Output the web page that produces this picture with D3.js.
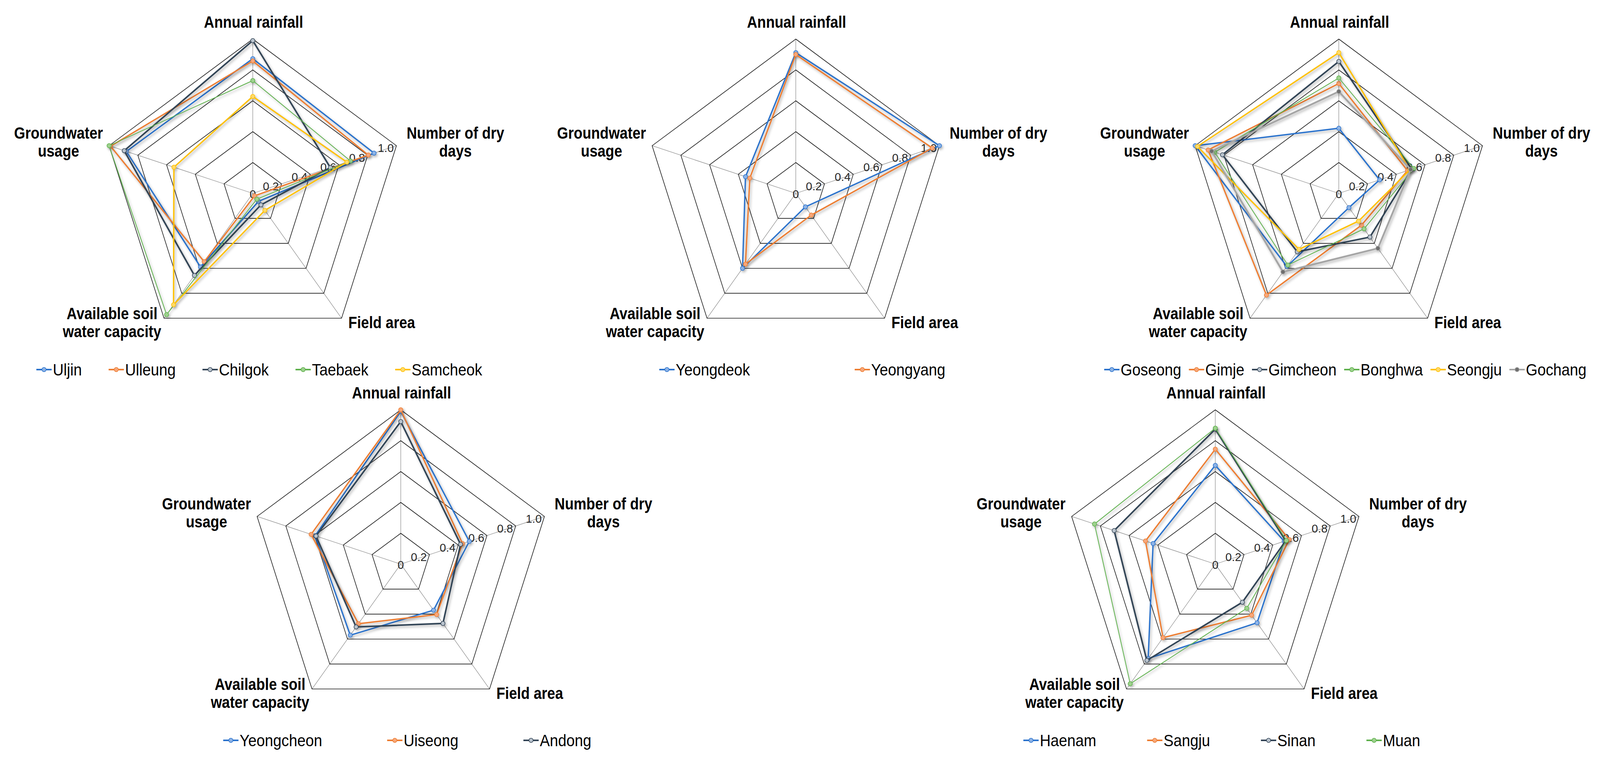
<!DOCTYPE html>
<html>
<head>
<meta charset="utf-8">
<script src="https://cdn.jsdelivr.net/npm/d3@7"></script>
<style>
  html, body { margin: 0; padding: 0; background: #fff; overflow: hidden; }
  svg { display: block; width: 100vw; height: 100vh; font-family: "Liberation Sans", Arial, sans-serif; }
</style>
</head>
<body>
<svg id="radar"></svg>
<script>
// axes, clockwise from the top
const axes = ["Annual rainfall", "Number of dry days", "Field area", "Available soil water capacity", "Groundwater usage"];
const axisLines = [["Annual rainfall"], ["Number of dry", "days"], ["Field area"], ["Available soil", "water capacity"], ["Groundwater", "usage"]];
const ticks = [0, 0.2, 0.4, 0.6, 0.8, 1.0];
const tickLabels = ["0", "0.2", "0.4", "0.6", "0.8", "1.0"];

// chart 1
const regions1 = ["Uljin", "Ulleung", "Chilgok", "Taebaek", "Samcheok"];
const values1 = [
    [0.873, 0.844, 0.064, 0.589, 0.880],
    [0.858, 0.804, 0.020, 0.547, 0.990],
    [0.990, 0.540, 0.092, 0.657, 0.895],
    [0.731, 0.680, 0.046, 0.971, 1.000],
    [0.628, 0.655, 0.136, 0.892, 0.549]
];

// chart 2
const regions2 = ["Yeongdeok", "Yeongyang"];
const values2 = [
    [0.912, 1.000, 0.108, 0.600, 0.350],
    [0.900, 0.950, 0.174, 0.567, 0.320]
];

// chart 3
const regions3 = ["Goseong", "Gimje", "Gimcheon", "Bonghwa", "Seongju", "Gochang"];
const values3 = [
    [0.422, 0.284, 0.114, 0.585, 1.000],
    [0.712, 0.478, 0.255, 0.815, 0.910],
    [0.855, 0.508, 0.350, 0.468, 0.810],
    [0.748, 0.522, 0.284, 0.574, 0.864],
    [0.912, 0.495, 0.222, 0.448, 0.984],
    [0.660, 0.500, 0.440, 0.629, 0.885]
];

// chart 4
const regions4 = ["Yeongcheon", "Uiseong", "Andong"];
const values4 = [
    [0.990, 0.477, 0.369, 0.569, 0.596],
    [1.000, 0.430, 0.404, 0.477, 0.624],
    [0.924, 0.416, 0.475, 0.503, 0.590]
];

// chart 5
const regions5 = ["Haenam", "Sangju", "Sinan", "Muan"];
const values5 = [
    [0.640, 0.480, 0.470, 0.756, 0.433],
    [0.745, 0.515, 0.409, 0.589, 0.486],
    [0.875, 0.490, 0.305, 0.771, 0.704],
    [0.881, 0.495, 0.354, 0.958, 0.841]
];

// series styles (same order in every chart)
const palette = ["#2A72CC", "#ED7D31", "#334456", "#5DB04B", "#FFC000", "#A5A5A5"];
const markerFill = ["#8DB3E6", "#F7A77A", "#B9C3CD", "#9ED18E", "#FFDA6B", "#6E6E6E"];
const lineWidths = [3.5, 3.5, 4, 2, 3.5, 4.5];

// where each chart sits on the page
const layout = [
    { cx: 661,  cy: 495,  legendGap: 70 },
    { cx: 2081, cy: 495,  legendGap: 274 },
    { cx: 3501, cy: 495,  legendGap: 20 },
    { cx: 1048, cy: 1444, legendGap: 170 },
    { cx: 3178, cy: 1444, legendGap: 133 }
];

const width = 4184;
const height = 1953;
const R = 395;
const squeeze = 0.89;      // titles are a little narrow in the original
const legendSqueeze = 0.93;

// drawn in a fixed 4184 x 1953 box stretched onto the window
const svg = d3.select("#radar")
    .attr("viewBox", "0 0 " + width + " " + height)
    .attr("preserveAspectRatio", "none");

svg.append("rect").attr("width", width).attr("height", height).attr("fill", "#fff");

// soft drop shadow like the office chart lines
svg.append("defs")
    .append("filter")
    .attr("id", "shadow")
    .attr("x", "-20%").attr("y", "-20%")
    .attr("width", "140%").attr("height", "140%")
    .append("feDropShadow")
    .attr("dx", 3).attr("dy", 4)
    .attr("stdDeviation", 3)
    .attr("flood-color", "#000")
    .attr("flood-opacity", 0.3);

const rScale = d3.scaleLinear().domain([0, 1]).range([0, R]);
const angle = d3.scaleLinear().domain([0, axes.length]).range([0, 2 * Math.PI]);

function point(i, v) {
    const a = angle(i);
    return [rScale(v) * Math.sin(a), -rScale(v) * Math.cos(a)];
}

function renderRadarChart(names, values, pos) {

    const g = svg.append("g")
        .attr("transform", "translate(" + pos.cx + "," + pos.cy + ")");

    const radial = d3.lineRadial()
        .angle((d, i) => angle(i))
        .radius(d => rScale(d))
        .curve(d3.curveLinearClosed);

    // spokes
    g.append("g")
        .selectAll("line")
        .data(axes)
        .enter().append("line")
        .attr("x1", 0).attr("y1", 0)
        .attr("x2", (d, i) => point(i, 1)[0])
        .attr("y2", (d, i) => point(i, 1)[1])
        .attr("stroke", "#8f8f8f")
        .attr("stroke-width", 1.3);

    // rings
    g.append("g")
        .selectAll("path")
        .data(ticks.filter(t => t > 0))
        .enter().append("path")
        .attr("d", t => radial(axes.map(() => t)))
        .attr("fill", "none")
        .attr("stroke", "#1a1a1a")
        .attr("stroke-width", 1.6);

    // tick labels along the dry days axis
    g.append("g")
        .selectAll("text")
        .data(ticks)
        .enter().append("text")
        .attr("x", t => t === 0 ? 0 : point(1, t)[0] - 7)
        .attr("y", t => t === 0 ? 1 : point(1, t)[1] + 6)
        .attr("dy", "0.35em")
        .attr("text-anchor", t => t === 0 ? "middle" : "end")
        .style("font-size", "30px")
        .style("fill", "#262626")
        .text((t, i) => tickLabels[i]);

    // series
    const series = g.append("g")
        .selectAll(".series")
        .data(values)
        .enter().append("g")
        .attr("class", "series")
        .attr("filter", "url(#shadow)");

    series.append("path")
        .attr("d", d => radial(d))
        .attr("fill", "none")
        .attr("stroke", (d, i) => palette[i])
        .attr("stroke-width", (d, i) => lineWidths[i])
        .attr("stroke-linejoin", "round");

    series.each(function(d, si) {
        d3.select(this).selectAll("circle")
            .data(d)
            .enter().append("circle")
            .attr("cx", (v, i) => point(i, v)[0])
            .attr("cy", (v, i) => point(i, v)[1])
            .attr("r", 5.5)
            .attr("fill", markerFill[si])
            .attr("stroke", palette[si])
            .attr("stroke-width", 1.5);
    });

    // axis titles
    const titleSpots = [
        { x: 2,    y: -424, anchor: "middle" },
        { x: 530,  y: -140, anchor: "middle" },
        { x: 250,  y: 345,  anchor: "start" },
        { x: -368, y: 322,  anchor: "middle" },
        { x: -508, y: -140, anchor: "middle" }
    ];
    axisLines.forEach((lines, i) => {
        const s = titleSpots[i];
        const t = g.append("g")
            .attr("transform", "translate(" + s.x + "," + s.y + ") scale(" + squeeze + ",1)")
            .append("text")
            .attr("text-anchor", s.anchor)
            .style("font-size", "42px")
            .style("font-weight", "bold")
            .style("fill", "#000");
        lines.forEach((line, k) => {
            t.append("tspan").attr("x", 0).attr("y", k * 46).text(line);
        });
    });

    // legend, entries packed with an even gap
    const legend = g.append("g").attr("transform", "translate(0," + 466 + ")");
    const items = legend.selectAll(".item")
        .data(names)
        .enter().append("g")
        .attr("class", "item");

    items.append("line")
        .attr("x1", 0).attr("x2", 40)
        .attr("y1", -15).attr("y2", -15)
        .attr("stroke", (d, i) => palette[i])
        .attr("stroke-width", 4);
    items.append("circle")
        .attr("cx", 20).attr("cy", -15).attr("r", 5.5)
        .attr("fill", (d, i) => markerFill[i])
        .attr("stroke", (d, i) => palette[i])
        .attr("stroke-width", 1.5);
    items.append("g")
        .attr("transform", "translate(43,0) scale(" + legendSqueeze + ",1)")
        .append("text")
        .style("font-size", "42px")
        .style("fill", "#000")
        .text(d => d);

    let x = 0;
    const starts = [];
    items.each(function() {
        starts.push(x);
        const w = 43 + d3.select(this).select("text").node().getComputedTextLength() * legendSqueeze;
        x += w + pos.legendGap;
    });
    const total = x - pos.legendGap;
    items.attr("transform", (d, i) => "translate(" + (starts[i] - total / 2 + 17) + ",0)");
}

renderRadarChart(regions1, values1, layout[0]);
renderRadarChart(regions2, values2, layout[1]);
renderRadarChart(regions3, values3, layout[2]);
renderRadarChart(regions4, values4, layout[3]);
renderRadarChart(regions5, values5, layout[4]);
</script>
</body>
</html>
